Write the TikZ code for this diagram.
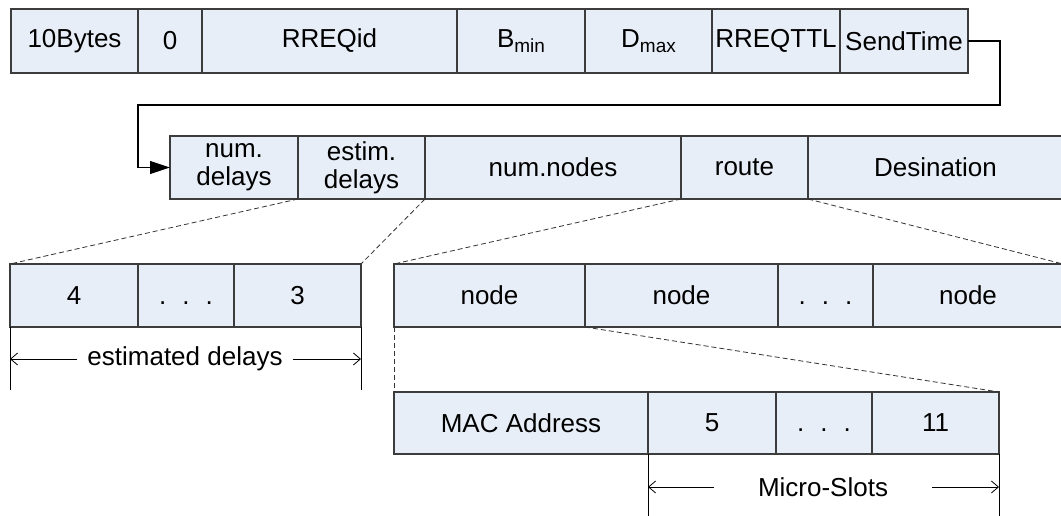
\documentclass[tikz,border=0pt]{standalone}
\usepackage{fontspec}
\setmainfont{Liberation Sans}
\usetikzlibrary{arrows.meta}
\definecolor{fieldfill}{RGB}{232,238,248}
\definecolor{fieldline}{RGB}{60,60,60}
\newcommand{\gapdots}{\vphantom{0}.\hspace{16pt}.\hspace{16pt}.}
\newcommand{\lowidx}[1]{\raisebox{-5pt}{\fontsize{19}{20}\selectfont #1}}
\tikzset{
  field/.style={draw=fieldline, line width=1.2pt, fill=fieldfill, anchor=north west,
    inner sep=0pt, outer sep=0pt, font=\fontsize{26}{28}\selectfont, align=center},
  link/.style={draw=black, line width=1.1pt, -{Triangle[length=20pt,width=13pt]}},
  zoomline/.style={draw=black!80, line width=0.8pt, dash pattern=on 5pt off 3pt},
  extline/.style={draw=black, line width=0.8pt},
  dimarrow/.style={draw=black, line width=0.8pt, -{Straight Barb[length=7pt,width=12pt,line width=0.8pt]}},
  dimlabel/.style={font=\fontsize{26}{28}\selectfont, inner ysep=0pt}
}
\begin{document}
\begin{tikzpicture}[x=1pt, y=-1pt]
\useasboundingbox (0,0) rectangle (1061,516);

% header fields
\node[field, minimum width=127pt, minimum height=64pt] (bytes) at (11,9) {10Bytes};
\node[field, minimum width=64pt,  minimum height=64pt] (zero)  at (138,9) {0};
\node[field, minimum width=255pt, minimum height=64pt] (rid)   at (202,9) {RREQid};
\node[field, minimum width=128pt, minimum height=64pt] (bmin)  at (457,9) {B\lowidx{min}};
\node[field, minimum width=127pt, minimum height=64pt] (dmax)  at (585,9) {D\lowidx{max}};
\node[field, minimum width=128pt, minimum height=64pt] (ttl)   at (712,9) {RREQTTL};
\node[field, minimum width=128pt, minimum height=64pt] (stime) at (840,9) {SendTime};

% continued fields
\node[field, minimum width=128pt, minimum height=63pt] (ndel)  at (170,136) {num.\\delays};
\node[field, minimum width=127pt, minimum height=63pt] (edel)  at (298,136) {estim.\\delays};
\node[field, minimum width=256pt, minimum height=63pt] (nn)    at (425,136) {num.nodes};
\node[field, minimum width=127pt, minimum height=63pt] (route) at (681,136) {route};
\node[field, minimum width=255pt, minimum height=63pt] (dest)  at (808,136) {Desination};

% link from the header to the continued fields
\coordinate (c1) at (1000,41);
\coordinate (c2) at (1000,105);
\coordinate (c3) at (138,105);
\coordinate (c4) at (138,167.5);
\draw[link] (stime.east) -- (c1) -- (c2) -- (c3) -- (c4) -- (ndel.west);

% estimated delays
\node[field, minimum width=128pt, minimum height=63pt] (d4)    at (10,264) {4};
\node[field, minimum width=96pt,  minimum height=63pt] (ddots) at (138,264) {\gapdots};
\node[field, minimum width=127pt, minimum height=63pt] (d3)    at (234,264) {3};

% route nodes
\node[field, minimum width=191pt, minimum height=63pt] (n1)    at (394,264) {node};
\node[field, minimum width=193pt, minimum height=63pt] (n2)    at (585,264) {node};
\node[field, minimum width=95pt,  minimum height=63pt] (ndots) at (778,264) {\gapdots};
\node[field, minimum width=190pt, minimum height=63pt] (n4)    at (873,264) {node};

% node layout
\node[field, minimum width=254pt, minimum height=62pt] (mac)   at (394,392) {MAC Address};
\node[field, minimum width=128pt, minimum height=62pt] (s5)    at (648,392) {5};
\node[field, minimum width=96pt,  minimum height=62pt] (sdots) at (776,392) {\gapdots};
\node[field, minimum width=127pt, minimum height=62pt] (s11)   at (872,392) {11};

% expansion guides
\draw[zoomline] (ndel.south east) -- (d4.north west);
\draw[zoomline] (edel.south east) -- (d3.north east);
\draw[zoomline] (nn.south east) -- (n1.north west);
\draw[zoomline] (route.south east) -- (n4.north east);
\draw[zoomline] (n1.south west) -- (mac.north west);
\draw[zoomline] (n1.south east) -- (s11.north east);

% dimension: estimated delays
\coordinate (e1) at (10,390);
\coordinate (e2) at (361,390);
\draw[extline] (d4.south west) -- (e1);
\draw[extline] (d3.south east) -- (e2);
\node[dimlabel, inner xsep=10pt] (elab) at (185,359) {estimated delays};
\draw[dimarrow] (elab.west) -- (elab.west -| e1);
\draw[dimarrow] (elab.east) -- (elab.east -| e2);

% dimension: micro-slots
\coordinate (m1) at (648,516);
\coordinate (m2) at (999,516);
\draw[extline] (s5.south west) -- (m1);
\draw[extline] (s11.south east) -- (m2);
\node[dimlabel, inner xsep=44pt] (mlab) at (823,487) {Micro-Slots};
\draw[dimarrow] (mlab.west) -- (mlab.west -| m1);
\draw[dimarrow] (mlab.east) -- (mlab.east -| m2);
\end{tikzpicture}
\end{document}
